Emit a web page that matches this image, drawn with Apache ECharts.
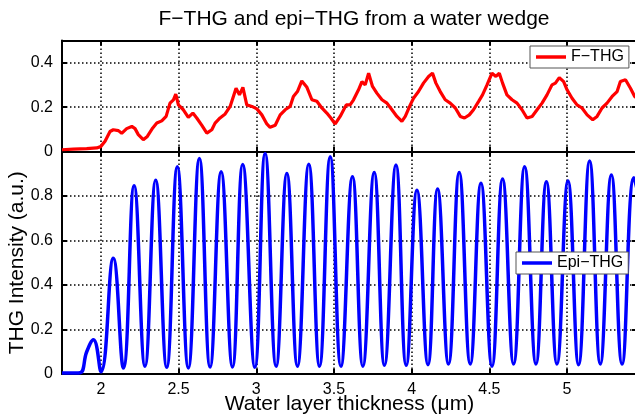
<!DOCTYPE html>
<html>
<head>
<meta charset="utf-8">
<script src="https://cdn.jsdelivr.net/npm/echarts@6/dist/echarts.min.js"></script>
<style>
html,body{margin:0;padding:0;background:#fff;}
#main{width:635px;height:419px;}
</style>
</head>
<body>
<div id="main"></div>
<script>
//F-THG (red)
var fthgX = [1.75,1.823,1.909,1.973,1.999,2.027,2.059,2.080,2.113,2.134,2.166,2.199,2.220,2.241,2.273,2.299,2.334,2.360,2.392,2.420,2.445,2.467,2.482,2.499,2.531,2.563,2.592,2.617,2.650,2.682,2.714,2.735,2.767,2.800,2.832,2.870,2.892,2.914,2.939,2.972,3.004,3.036,3.068,3.089,3.122,3.154,3.186,3.218,3.239,3.265,3.293,3.326,3.358,3.390,3.422,3.454,3.480,3.508,3.540,3.579,3.604,3.626,3.658,3.680,3.701,3.723,3.748,3.776,3.809,3.841,3.873,3.905,3.937,3.959,3.991,4.012,4.044,4.076,4.109,4.134,4.156,4.184,4.216,4.248,4.281,4.313,4.340,4.371,4.398,4.431,4.456,4.485,4.517,4.542,4.564,4.585,4.613,4.646,4.678,4.710,4.742,4.775,4.807,4.839,4.871,4.903,4.925,4.950,4.978,5.000,5.032,5.064,5.096,5.129,5.165,5.193,5.225,5.257,5.290,5.322,5.343,5.376,5.408,5.435,5.45];
var fthgY = [0.008,0.011,0.013,0.016,0.022,0.046,0.090,0.098,0.094,0.082,0.103,0.113,0.103,0.076,0.053,0.068,0.106,0.128,0.138,0.158,0.218,0.233,0.258,0.210,0.188,0.154,0.173,0.151,0.118,0.083,0.098,0.128,0.151,0.169,0.203,0.285,0.255,0.289,0.210,0.203,0.192,0.165,0.124,0.109,0.118,0.165,0.188,0.203,0.248,0.270,0.318,0.289,0.233,0.226,0.196,0.173,0.151,0.124,0.158,0.210,0.210,0.233,0.278,0.315,0.300,0.353,0.293,0.263,0.233,0.218,0.188,0.158,0.136,0.158,0.210,0.240,0.270,0.308,0.338,0.353,0.308,0.270,0.233,0.218,0.196,0.158,0.151,0.165,0.188,0.226,0.255,0.300,0.353,0.338,0.353,0.308,0.255,0.233,0.218,0.188,0.151,0.158,0.188,0.218,0.255,0.300,0.308,0.333,0.315,0.278,0.240,0.210,0.196,0.165,0.143,0.158,0.196,0.218,0.248,0.270,0.315,0.323,0.285,0.248,0.240];

//Epi-THG (blue), peaks and troughs
var epiX = [1.75,1.80,1.866,1.909,1.952,2.001,2.080,2.145,2.214,2.284,2.353,2.424,2.492,2.563,2.634,2.703,2.774,2.847,2.913,2.991,3.057,3.128,3.197,3.265,3.338,3.407,3.476,3.545,3.619,3.686,3.759,3.825,3.899,3.965,4.034,4.105,4.167,4.237,4.306,4.377,4.446,4.517,4.585,4.656,4.727,4.800,4.867,4.935,5.006,5.074,5.145,5.214,5.285,5.354,5.430,5.46];
var epiY = [0.004,0.004,0.006,0.100,0.154,0.010,0.520,0.027,0.846,0.035,0.871,0.030,0.931,0.027,0.969,0.031,0.909,0.031,0.942,0.030,0.991,0.035,0.901,0.035,0.943,0.035,0.976,0.035,0.886,0.035,0.906,0.039,0.939,0.039,0.826,0.042,0.831,0.045,0.906,0.045,0.857,0.035,0.876,0.045,0.931,0.045,0.864,0.045,0.867,0.042,0.957,0.045,0.894,0.045,0.882,0.80];

var xMin = 1.75, xMax = 5.45;

var fontName = 'Liberation Sans, Arial, sans-serif';

var zip = function(xs, ys){
	var out = [];
	for(var i=0;i<xs.length;i++){ out.push([xs[i], ys[i]]); }
	return out;
};

var dotted = {show:true, lineStyle:{color:'#000', width:1.5, type:[1.5,2.5]}};
var noSplit = {show:false};
var axLine = {show:true, onZero:false, lineStyle:{color:'#000', width:2}};
var tick = {show:true, inside:true, length:5, lineStyle:{color:'#000', width:2}};

//x轴
var makeX = function(gridIndex, pos, showLabel, split, name){
	return {
		type:'value', gridIndex:gridIndex, position:pos,
		min:xMin, max:xMax, splitNumber:7,
		axisLine:axLine, axisTick:tick,
		splitLine: split ? dotted : noSplit,
		axisLabel:{
			show:showLabel, margin:8, color:'#000', fontSize:16, fontFamily:fontName,
			showMinLabel:false, showMaxLabel:false,
			formatter:function(v){ return (Math.abs(v*2 - Math.round(v*2)) < 1e-6) ? String(v) : ''; }
		},
		name:name || '', nameLocation:'middle', nameGap:20, nameMoveOverlap:false,
		nameTextStyle:{color:'#000', fontSize:21, fontFamily:fontName}
	};
};

//y轴
var makeY = function(gridIndex, pos, max, showLabel, split, name){
	return {
		type:'value', gridIndex:gridIndex, position:pos,
		min:0, max:max, interval:0.2,
		axisLine:axLine, axisTick:tick,
		splitLine: split ? dotted : noSplit,
		axisLabel:{show:showLabel, margin:9, color:'#000', fontSize:16, fontFamily:fontName, showMaxLabel:false},
		name:name || '', nameLocation:'middle', nameGap:34, nameRotate:90, nameMoveOverlap:false,
		nameTextStyle:{color:'#000', fontSize:21, fontFamily:fontName}
	};
};

var myChart = echarts.init(document.getElementById('main'), null, {renderer:'canvas'});

var legendBase = {
	backgroundColor:'#fff', borderColor:'#555', borderWidth:1, borderRadius:0,
	padding:[3,5,3,6], icon:'rect', itemWidth:30, itemHeight:3.5,
	textStyle:{color:'#000', fontSize:16, fontFamily:fontName}
};

var option = {
	animation:false,
	backgroundColor:'#fff',
	title:{
		text:'F\u2212THG and epi\u2212THG from a water wedge',
		left:349, top:4, textAlign:'center',
		textStyle:{color:'#000', fontSize:21, fontWeight:'normal', fontFamily:fontName}
	},
	grid:[
		{left:62, right:-2, top:40.5, height:111, outerBoundsMode:'none', containLabel:false},
		{left:62, right:-2, top:151.5, height:222.5, outerBoundsMode:'none', containLabel:false}
	],
	xAxis:[
		makeX(0, 'bottom', false, true),
		makeX(0, 'top', false, false),
		makeX(1, 'top', false, false),
		makeX(1, 'bottom', true, true, 'Water layer thickness (\u03bcm)')
	],
	yAxis:[
		makeY(0, 'left', 0.5, true, true),
		makeY(0, 'right', 0.5, false, false),
		makeY(1, 'left', 1, true, true, 'THG Intensity (a.u.)'),
		makeY(1, 'right', 1, false, false)
	],
	legend:[
		echarts.util.merge({data:['F\u2212THG'], left:530, top:46}, legendBase),
		echarts.util.merge({data:['Epi\u2212THG'], left:516, top:252}, legendBase)
	],
	series:[
		{
			name:'F\u2212THG', type:'line', xAxisIndex:0, yAxisIndex:0,
			data:zip(fthgX, fthgY), showSymbol:false, symbol:'none',
			lineStyle:{color:'#ff0000', width:3.2}, itemStyle:{color:'#ff0000'}
		},
		{
			name:'Epi\u2212THG', type:'line', xAxisIndex:3, yAxisIndex:2,
			data:zip(epiX, epiY), showSymbol:false, symbol:'none', smooth:0.45,
			lineStyle:{color:'#0000ff', width:3.5}, itemStyle:{color:'#0000ff'}
		}
	]
};

myChart.setOption(option);
</script>
</body>
</html>
